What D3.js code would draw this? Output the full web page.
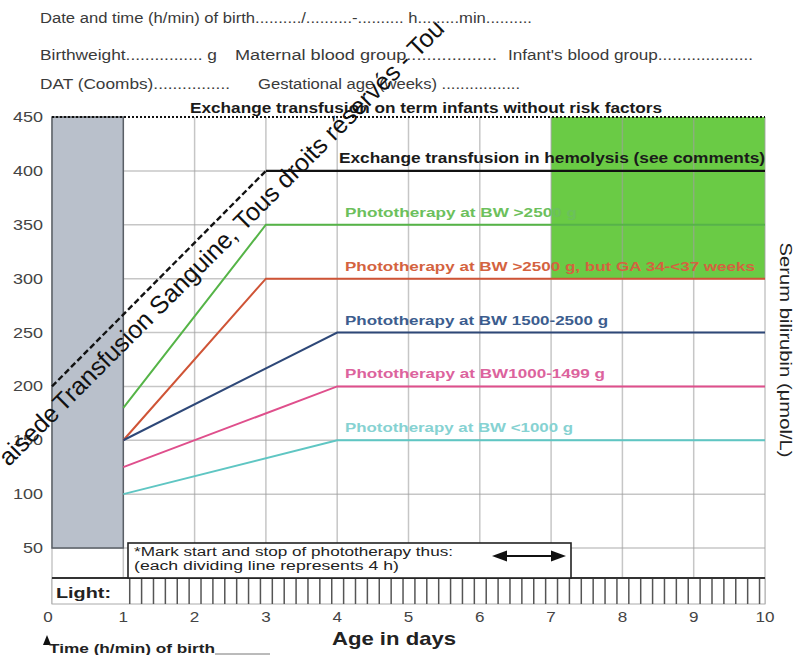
<!DOCTYPE html>
<html><head><meta charset="utf-8">
<script src="https://cdn.jsdelivr.net/npm/d3@7"></script>
<style>
body{margin:0;background:#fff;}
svg{font-family:"Liberation Sans",Arial,sans-serif;}
</style></head>
<body><svg id="c" width="807" height="655"></svg>
<script>
// ---- data ----
const days = [0,1,2,3,4,5,6,7,8,9,10];
const bilirubinTicks = [50,100,150,200,250,300,350,400,450];
const photoLabels = ["Phototherapy at BW >2500 g","Phototherapy at BW >2500 g, but GA 34-<37 weeks","Phototherapy at BW 1500-2500 g","Phototherapy at BW1000-1499 g","Phototherapy at BW <1000 g"];
const photoStartDay = [1,1,1,1,1];
const photoStartValue = [180,150,150,125,100];
const photoPlateauDay = [3,3,4,4,4];
const photoPlateauValue = [350,300,250,200,150];
const hemolysisDays = [0,3,10];
const hemolysisValues = [200,400,400];
const termExchangeValue = 450;
const greyZone = [0,1,50,450];   // day from, day to, value from, value to
const greenZone = [7,10,300,450];
const lightStep = 1/6; // each dividing line = 4 h

const photoLine = ["#55b447","#cf5436","#2e4878","#df4f8c","#5fc6c3"];
const photoText = ["#6cc05c","#d4633f","#3c5d8e","#dc639d","#86d2d2"];
const photoTextEnd = [577,755,608,605,573];

const svg = d3.select("#c");
const x = d3.scaleLinear().domain([0,10]).range([52,765]);
const y = d3.scaleLinear().domain([50,450]).range([548,117]);
const stripTop = 578, stripBot = 604;

function T(g, px, py, str, len, opts={}){
  const t = g.append("text").attr("x",px).attr("y",py).text(str);
  if(len){ t.attr("textLength",len).attr("lengthAdjust","spacingAndGlyphs"); }
  Object.entries(opts).forEach(([k,v])=>t.attr(k,v));
  return t;
}

// header
const hdr = svg.append("g").attr("fill","#3a3a3a").attr("font-size",14);
T(hdr,40,23,"Date and time (h/min) of birth........../..........-.......... h.........min..........",492);
T(hdr,40,60,"Birthweight................ g",177);
T(hdr,235,60,"Maternal blood group..................",262);
T(hdr,508,60,"Infant's blood group....................",245);
T(hdr,40,89,"DAT (Coombs)................",190);
T(hdr,258,89,"Gestational age (weeks) .................",262);

// green zone
svg.append("rect").attr("x",x(greenZone[0])).attr("y",y(greenZone[3]))
  .attr("width",x(greenZone[1])-x(greenZone[0])).attr("height",y(greenZone[2])-y(greenZone[3]))
  .attr("fill","#6acb45");

// grid
const grid = svg.append("g").attr("stroke","#a0a0a0").attr("stroke-opacity",0.6).attr("stroke-width",1.5);
grid.selectAll("line.v").data(days).join("line")
  .attr("x1",d=>x(d)).attr("x2",d=>x(d)).attr("y1",y(450)).attr("y2",stripBot);
grid.selectAll("line.h").data(bilirubinTicks.filter(d=>d<450)).join("line").attr("class","h")
  .attr("x1",x(0)).attr("x2",x(10)).attr("y1",d=>y(d)).attr("y2",d=>y(d));

// grey zone
svg.append("rect").attr("x",x(greyZone[0])).attr("y",y(greyZone[3]))
  .attr("width",x(greyZone[1])-x(greyZone[0])).attr("height",y(greyZone[2])-y(greyZone[3]))
  .attr("fill","#b9c0cb").attr("stroke","#5a5f66").attr("stroke-width",1.5);

// y labels
const yl = svg.append("g").attr("fill","#444").attr("font-size",14).attr("text-anchor","end");
bilirubinTicks.forEach(d=>T(yl,43,y(d)+5,String(d),String(d).length*10));

// lines
const line = d3.line().x(d=>x(d[0])).y(d=>y(d[1]));
svg.append("path").attr("d",line([[0,termExchangeValue],[10,termExchangeValue]]))
  .attr("stroke","#111").attr("stroke-width",2.2).attr("stroke-dasharray","2,2").attr("fill","none");
svg.append("path").attr("d",line([[hemolysisDays[0],hemolysisValues[0]],[hemolysisDays[1],hemolysisValues[1]]]))
  .attr("stroke","#111").attr("stroke-width",2.4).attr("stroke-dasharray","6,3").attr("fill","none");
svg.append("path").attr("d",line([[hemolysisDays[1],hemolysisValues[1]],[hemolysisDays[2],hemolysisValues[2]]]))
  .attr("stroke","#111").attr("stroke-width",2.2).attr("fill","none");

const lab = svg.append("g").attr("font-weight","bold").attr("font-size",13.5);
photoLabels.forEach((l,i)=>{
  svg.append("path").attr("d",line([[photoStartDay[i],photoStartValue[i]],[photoPlateauDay[i],photoPlateauValue[i]],[10,photoPlateauValue[i]]]))
    .attr("stroke",photoLine[i]).attr("stroke-width",2).attr("fill","none");
  T(lab,345,y(photoPlateauValue[i])-8,l,photoTextEnd[i]-345,{fill:photoText[i]});
});

T(svg,190,113,"Exchange transfusion on term infants without risk factors",472,
  {"font-weight":"bold","font-size":14.5,fill:"#1a1a1a"});
T(svg,339,y(400)-8,"Exchange transfusion in hemolysis (see comments)",426,
  {"font-weight":"bold","font-size":14,fill:"#1a1a1a"});

// light strip
svg.append("rect").attr("x",x(0)).attr("y",stripTop).attr("width",x(10)-x(0)).attr("height",stripBot-stripTop)
  .attr("fill","#fff").attr("stroke","#aaa").attr("stroke-width",1);
svg.append("line").attr("x1",x(0)).attr("x2",x(10)).attr("y1",stripTop).attr("y2",stripTop).attr("stroke","#333").attr("stroke-width",2);
const lightTicks = d3.range(1.09, 9.99, lightStep);
svg.append("g").attr("stroke","#555").attr("stroke-width",1.5)
  .selectAll("line").data(lightTicks).join("line")
  .attr("x1",d=>x(d)).attr("x2",d=>x(d)).attr("y1",stripTop+1).attr("y2",stripBot);
T(svg,56,stripTop+20,"Light:",55,{"font-weight":"bold","font-size":15,fill:"#222"});

// note box
const nb = svg.append("g");
nb.append("rect").attr("x",128).attr("y",543).attr("width",571-128).attr("height",stripTop-543)
  .attr("fill","#fff").attr("stroke","#222").attr("stroke-width",1.6);
T(nb,134,556,"*Mark start and stop of phototherapy thus:",319,{"font-size":12.5,fill:"#222"});
T(nb,134,570,"(each dividing line represents 4 h)",265,{"font-size":12.5,fill:"#222"});
const ay = 556;
nb.append("line").attr("x1",500).attr("x2",558).attr("y1",ay).attr("y2",ay).attr("stroke","#111").attr("stroke-width",2.2);
nb.append("path").attr("d",`M492,${ay} L507,${ay-5.5} L507,${ay+5.5} Z`).attr("fill","#111");
nb.append("path").attr("d",`M566,${ay} L551,${ay-5.5} L551,${ay+5.5} Z`).attr("fill","#111");

// x labels
const xl = svg.append("g").attr("fill","#444").attr("font-size",14).attr("text-anchor","middle");
days.forEach(d=>T(xl,x(d)-(d===0?4:0),622,String(d),String(d).length*9.5));
T(svg,394,645,"Age in days",124,{"text-anchor":"middle","font-weight":"bold","font-size":18.5,fill:"#222"});
svg.append("path").attr("d",`M43,645 L47,635 L51,645 Z`).attr("fill","#111");
T(svg,49,653,"Time (h/min) of birth",166,{"font-weight":"bold","font-size":13.5,fill:"#222"});
svg.append("line").attr("x1",215).attr("x2",270).attr("y1",654).attr("y2",654).attr("stroke","#777");

// right label
svg.append("text").attr("transform","translate(780,350) rotate(90)").attr("text-anchor","middle")
  .attr("font-size",17).attr("fill","#222").attr("textLength",215).attr("lengthAdjust","spacingAndGlyphs")
  .text("Serum bilirubin (\u03bcmol/L)");

// watermark
const wm = svg.append("g").attr("transform","translate(63,413) rotate(-45)").attr("font-size",25).attr("fill","#111");
wm.append("text").attr("text-anchor","end").attr("x",-3).text("aisede");
wm.append("text").attr("x",0).text("Transfusion Sanguine, Tous droits réservés - Tou");
</script></body></html>
